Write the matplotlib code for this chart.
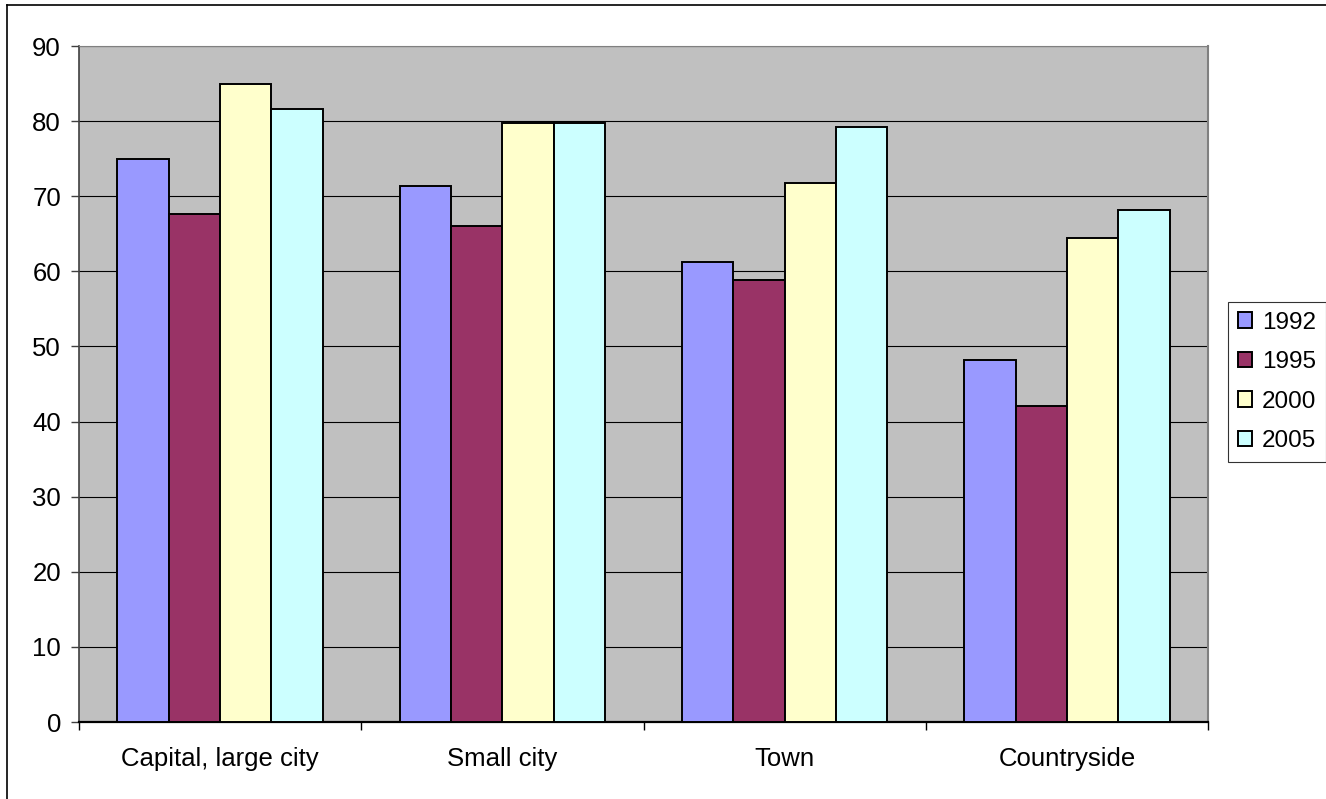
import numpy as np
import matplotlib
matplotlib.use("Agg")
import matplotlib.pyplot as plt
from matplotlib.lines import Line2D

plt.rcParams['font.family'] = ['Liberation Sans', 'DejaVu Sans']

cats = ["Capital, large city", "Small city", "Town", "Countryside"]
years = ["1992", "1995", "2000", "2005"]
v1992 = [75.0, 71.3, 61.3, 48.2]
v1995 = [67.6, 66.1, 58.9, 42.1]
v2000 = [85.0, 79.7, 71.8, 64.4]
v2005 = [81.6, 79.7, 79.2, 68.1]
cols = ["#9999FF", "#993366", "#FFFFCC", "#CCFFFF"]

W, H = 1326, 799
fig = plt.figure(figsize=(W/100, H/100), dpi=100)
ax = fig.add_axes([79/W, 1-722/H, 1129/W, 676/H])
ax.set_facecolor("#C0C0C0")

x = np.arange(len(cats))
w = 1/5.5
series = [v1992, v1995, v2000, v2005]
for j, vals in enumerate(series):
    ax.bar(x + (j-1.5)*w, vals, width=w, color=cols[j], edgecolor="black",
           linewidth=1.4, label=years[j], zorder=3)

ax.set_xlim(-0.5, 3.5)
ax.set_ylim(0, 90)
ax.set_yticks(np.arange(0, 91, 10))
ax.yaxis.grid(True, color="black", linewidth=0.8)
ax.set_axisbelow(True)

ax.set_xticks(x)
ax.set_xticklabels(cats)
ax.set_xticks(np.arange(-0.5, 3.6, 1), minor=True)
ax.tick_params(axis="x", which="major", length=0, pad=18, labelsize=18.5)
ax.tick_params(axis="x", which="minor", length=6, width=1, color="black", direction="out")
ax.tick_params(axis="y", length=6, width=1, color="#404040", pad=7, labelsize=18.5)

ax.spines["left"].set_color("#404040")
ax.spines["left"].set_linewidth(1.2)
ax.spines["bottom"].set_color("black")
ax.spines["bottom"].set_linewidth(1.6)
ax.spines["top"].set_color("#808080")
ax.spines["right"].set_color("#808080")
ax.spines["right"].set_linewidth(1.5)

leg = ax.legend(loc="upper left", bbox_to_anchor=(1228/W, 1-302/H),
                bbox_transform=fig.transFigure, borderaxespad=0,
                fancybox=False, frameon=True, edgecolor="black",
                fontsize=17.5, handlelength=0.6, handleheight=0.6,
                handletextpad=0.4, labelspacing=0.72, borderpad=0.4)
leg.get_frame().set_linewidth(0.8)

# outer chart border (top and left visible)
fig.add_artist(Line2D([7/W, 1.0], [1-5/H, 1-5/H], transform=fig.transFigure, color="black", linewidth=1.2))
fig.add_artist(Line2D([7/W, 7/W], [0, 1-5/H], transform=fig.transFigure, color="black", linewidth=1.2))

fig.savefig("out.png", dpi=100)
